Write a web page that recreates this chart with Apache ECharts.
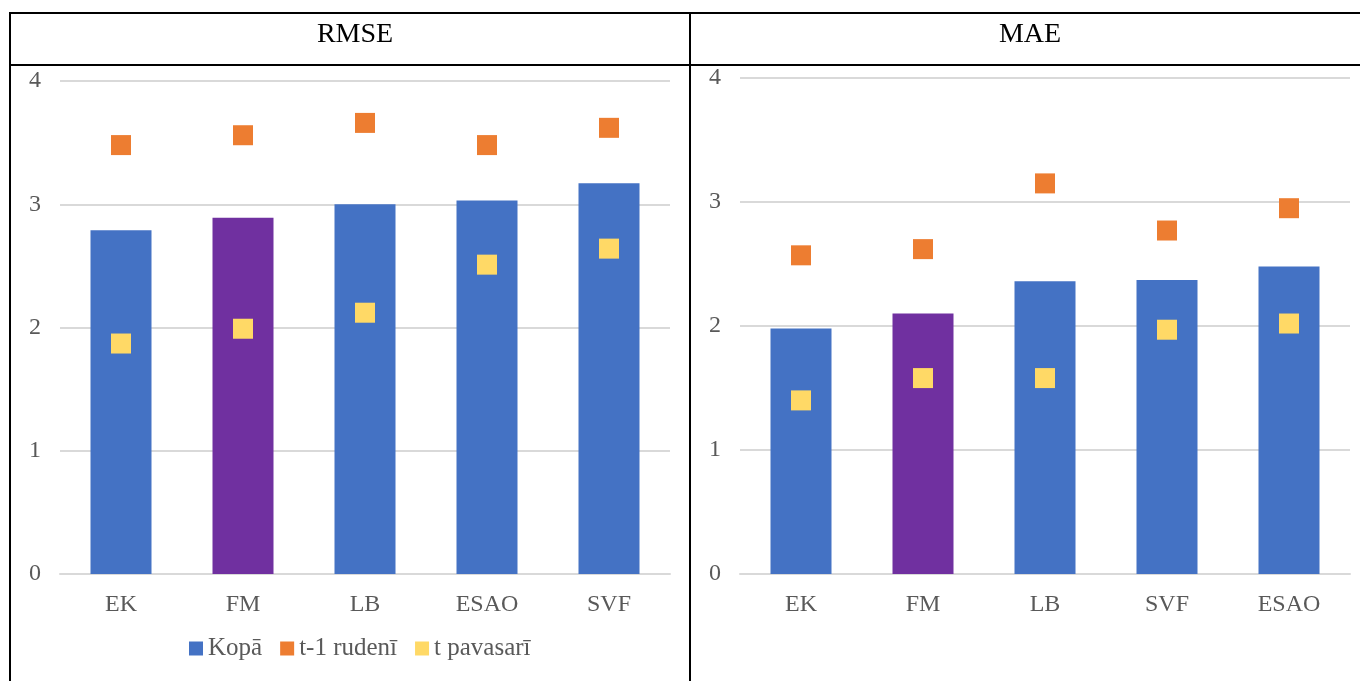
<!DOCTYPE html>
<html>
<head>
<meta charset="utf-8">
<style>
html,body{margin:0;padding:0;background:#fff;}
#chart{width:1360px;height:681px;}
</style>
<script src="https://cdn.jsdelivr.net/npm/echarts@6/dist/echarts.min.js"></script>
</head>
<body>
<div id="chart"></div>
<script>
// ---- data ----
var seriesNames = ['Kopā', 't-1 rudenī', 't pavasarī'];
var panelTitles = ['RMSE', 'MAE'];
var yTicks = [0, 1, 2, 3, 4];

var rmseCategories = ['EK', 'FM', 'LB', 'ESAO', 'SVF'];
var rmseTotal  = [2.79, 2.89, 3.00, 3.03, 3.17];
var rmseAutumn = [3.48, 3.56, 3.66, 3.48, 3.62];
var rmseSpring = [1.87, 1.99, 2.12, 2.51, 2.64];

var maeCategories = ['EK', 'FM', 'LB', 'SVF', 'ESAO'];
var maeTotal  = [1.98, 2.10, 2.36, 2.37, 2.48];
var maeAutumn = [2.57, 2.62, 3.15, 2.77, 2.95];
var maeSpring = [1.40, 1.58, 1.58, 1.97, 2.02];

var highlightCategory = 'FM';

// ---- styling ----
var FONT = '"Liberation Serif", "Times New Roman", serif';
var BLUE = '#4472C4', PURPLE = '#7030A0', ORANGE = '#ED7D31', YELLOW = '#FFD966';
var GRAY = '#595959', GRID = '#d9d9d9';

function barData(cats, vals) {
  return vals.map(function (v, i) {
    return cats[i] === highlightCategory ? { value: v, itemStyle: { color: PURPLE } } : v;
  });
}

function xAxis(idx, cats) {
  return {
    type: 'category', gridIndex: idx, data: cats,
    axisTick: { show: false },
    axisLine: { lineStyle: { color: GRID, width: 2 } },
    axisLabel: { color: GRAY, fontFamily: FONT, fontSize: 24, margin: 19 }
  };
}
function yAxis(idx) {
  return {
    type: 'value', gridIndex: idx, min: yTicks[0], max: yTicks[yTicks.length - 1], interval: 1,
    axisLine: { show: false }, axisTick: { show: false },
    splitLine: { lineStyle: { color: GRID, width: 2 } },
    axisLabel: { color: GRAY, fontFamily: FONT, fontSize: 24, margin: 19 }
  };
}
function panelSeries(idx, cats, total, autumn, spring) {
  return [
    { name: seriesNames[0], type: 'bar', xAxisIndex: idx, yAxisIndex: idx, barWidth: '50%',
      itemStyle: { color: BLUE }, data: barData(cats, total) },
    { name: seriesNames[1], type: 'scatter', xAxisIndex: idx, yAxisIndex: idx, symbol: 'rect', symbolSize: 20,
      itemStyle: { color: ORANGE, opacity: 1 }, data: autumn },
    { name: seriesNames[2], type: 'scatter', xAxisIndex: idx, yAxisIndex: idx, symbol: 'rect', symbolSize: 20,
      itemStyle: { color: YELLOW, opacity: 1 }, data: spring }
  ];
}

var lineStyle = { stroke: '#000', lineWidth: 2 };
var chart = echarts.init(document.getElementById('chart'));
chart.setOption({
  backgroundColor: '#fff',
  animation: false,
  title: [
    { text: panelTitles[0], left: 350, top: 16, textAlign: 'center',
      textStyle: { fontFamily: FONT, fontSize: 28, fontWeight: 'normal', color: '#000' } },
    { text: panelTitles[1], left: 1025, top: 16, textAlign: 'center',
      textStyle: { fontFamily: FONT, fontSize: 28, fontWeight: 'normal', color: '#000' } }
  ],
  legend: {
    data: seriesNames.map(function (n) { return { name: n, icon: 'rect' }; }),
    left: 184, top: 631, itemWidth: 14, itemHeight: 14, itemGap: 18,
    textStyle: { color: GRAY, fontFamily: FONT, fontSize: 25 }
  },
  grid: [
    { left: 60, top: 81, width: 610, height: 493 },
    { left: 740, top: 78, width: 610, height: 496 }
  ],
  xAxis: [xAxis(0, rmseCategories), xAxis(1, maeCategories)],
  yAxis: [yAxis(0), yAxis(1)],
  series: panelSeries(0, rmseCategories, rmseTotal, rmseAutumn, rmseSpring)
    .concat(panelSeries(1, maeCategories, maeTotal, maeAutumn, maeSpring)),
  graphic: [
    { type: 'line', shape: { x1: 9, y1: 13, x2: 1360, y2: 13 }, style: lineStyle },
    { type: 'line', shape: { x1: 9, y1: 65, x2: 1360, y2: 65 }, style: lineStyle },
    { type: 'line', shape: { x1: 10, y1: 12, x2: 10, y2: 681 }, style: lineStyle },
    { type: 'line', shape: { x1: 690, y1: 12, x2: 690, y2: 681 }, style: lineStyle }
  ]
});
</script>
</body>
</html>
